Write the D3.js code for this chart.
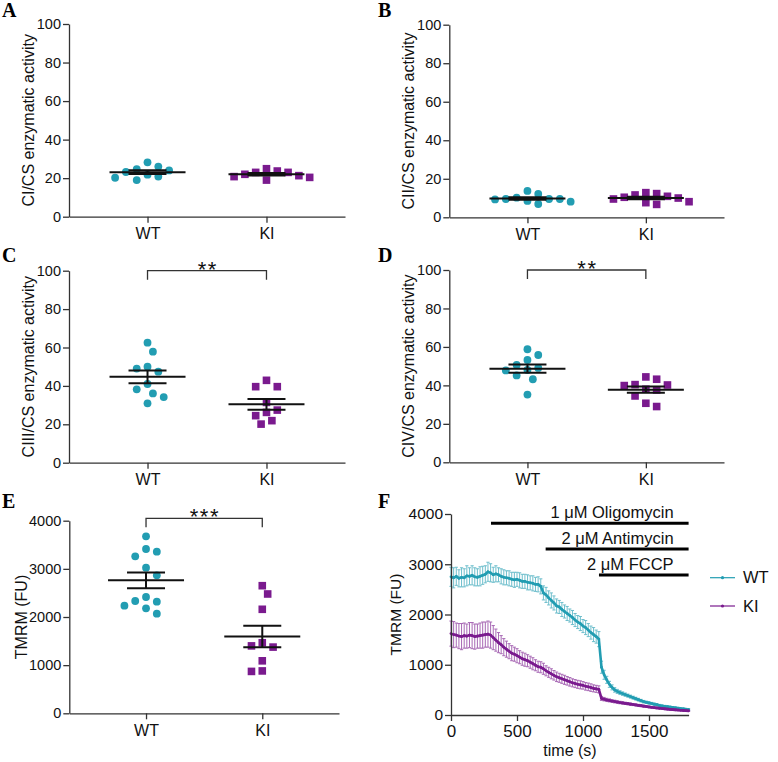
<!DOCTYPE html>
<html><head><meta charset="utf-8">
<script src="https://cdn.jsdelivr.net/npm/d3@7"></script>
<style>
body{margin:0;background:#fff}
svg{display:block}
</style>
</head><body>
<svg id="c" width="778" height="762"></svg>
<script>
// ---------------- DATA ----------------
const groups = ["WT", "KI"];
const pctTicks = [0, 20, 40, 60, 80, 100];
const tmrmTicks = [0, 1000, 2000, 3000, 4000];
const timeTicks = [0, 500, 1000, 1500];

const ciWT   = [24.7, 23.2, 20.8, 28.2, 19.0, 26.0, 20.2, 21.8, 24.0];
const ciKI   = [23.0, 22.0, 20.8, 19.0, 24.9, 20.4, 21.3, 23.0, 23.7];
const ciiWT  = [12.1, 9.5, 9.5, 8.5, 13.7, 6.9, 8.1, 9.3, 9.5, 10.2];
const ciiKI  = [12.3, 10.9, 10.0, 8.1, 12.8, 6.7, 7.6, 9.5, 10.4, 11.6];
const ciiiWT = [62.5, 57.8, 50.0, 47.4, 49.0, 41.0, 38.2, 36.1, 34.2, 30.9];
const ciiiKI = [42.9, 39.6, 39.6, 27.4, 24.5, 26.2, 31.4, 20.1, 21.9];
const civWT  = [58.8, 55.8, 53.2, 47.8, 50.6, 48.0, 49.1, 45.2, 43.2, 35.2];
const civKI  = [40.2, 43.2, 44.4, 38.0, 37.6, 39.9, 40.4, 34.5, 29.0, 30.7];
const tmrmWT = [3676, 3356, 3412, 3261, 3024, 2866, 2332, 2235, 2318, 2415, 2181, 2069];
const tmrmKI = [2650, 2478, 2160, 1400, 1375, 1465, 1090, 870, 880];

const sigLabels = {C: "**", D: "**", E: "***"};
const sigLevels = {C: 100, D: 100, E: 4050};

const fTime = [0,20,40,60,80,100,120,140,160,180,200,220,240,260,280,300,320,340,360,380,400,420,440,460,480,500,520,540,560,580,600,620,640,660,680,700,720,740,760,780,800,820,840,860,880,900,920,940,960,980,1000,1020,1040,1060,1080,1100,1120,1140,1160,1180,1200,1220,1240,1260,1280,1300,1320,1340,1360,1380,1400,1420,1440,1460,1480,1500,1520,1540,1560,1580,1600,1620,1640,1660,1680,1700,1720,1740,1760,1780,1800];
const fWT = [2750,2730,2760,2720,2740,2730,2770,2760,2780,2750,2740,2760,2780,2800,2850,
  2830,2790,2810,2790,2760,2740,2730,2720,2700,2690,2700,2680,2660,2660,2640,2630,2620,2600,2600,2560,
  2430,2390,2330,2280,2230,2170,2150,2100,2060,2020,1980,1940,1890,1850,1820,1770,1740,1690,1640,1600,1560,1510,
  950,800,700,610,550,500,470,445,425,405,385,365,345,325,305,285,265,252,240,228,216,205,190,180,172,165,158,150,143,136,128,122,115,110];
const fWTerr = [190,200,180,170,190,180,200,170,190,180,170,190,180,170,190,
  180,150,160,140,150,150,140,150,140,150,140,150,140,140,150,140,150,140,150,150,
  140,150,140,150,140,140,130,140,130,140,130,140,130,130,140,130,140,130,130,140,130,150,
  120,90,70,60,50,45,40,38,35,33,31,30,29,28,27,26,25,24,24,23,22,22,21,21,20,20,19,19,18,18,17,17,16,16];
const fKI = [1620,1600,1590,1570,1560,1580,1570,1590,1580,1560,1570,1580,1590,1600,1610,
  1590,1540,1490,1440,1400,1350,1310,1270,1230,1210,1180,1150,1120,1100,1080,1050,1020,990,960,950,
  920,880,850,820,790,760,740,720,700,680,660,640,625,610,600,590,570,560,545,530,520,510,
  330,315,300,290,278,268,258,248,240,232,224,216,208,200,192,184,176,168,160,153,146,140,134,128,122,117,112,107,102,98,94,90,86,83];
const fKIerr = [250,260,240,250,260,250,240,250,260,250,240,250,260,250,260,
  260,240,220,200,180,170,160,150,150,140,140,130,130,130,120,120,120,110,110,110,
  110,100,100,100,95,95,90,90,90,85,85,80,80,80,80,75,75,75,75,70,70,70,
  40,35,32,30,28,27,26,25,24,23,22,22,21,21,20,20,19,19,18,18,17,17,16,16,15,15,15,14,14,14,13,13,13,12];

const treatments = ["1 \u03bcM Oligomycin", "2 \u03bcM Antimycin", "2 \u03bcM FCCP"];
const treatmentStart = [303, 717, 1121];
const treatmentEnd = 1800;

// ---------------- STYLE / LAYOUT ----------------
const SANS = '"Liberation Sans",Arial,sans-serif';
const COL = {WT: "#229db2", KI: "#7a1a8e"};
const svg = d3.select("#c");

function styleAxis(g, fs) {
  g.attr("font-family", SANS);
  g.selectAll(".domain").attr("stroke", "#333").attr("stroke-width", 1.3);
  g.selectAll(".tick line").attr("stroke", "#333").attr("stroke-width", 1.3);
  g.selectAll(".tick text").attr("fill", "#111").style("font-family", SANS).style("font-size", fs + "px");
}

function txt(sel, fs) {
  return sel.style("font-family", SANS).style("font-size", fs + "px").attr("fill", "#111");
}

function swarm(vals, yS, cx, step, minD) {
  const pts = vals.map((v, i) => ({v, y: yS(v), i, dx: 0}));
  const order = pts.slice().sort((a, b) => a.y - b.y);
  const placed = [];
  let side = 1;
  for (const p of order) {
    let done = false;
    for (let k = 0; k < 60 && !done; k++) {
      const cands = k === 0 ? [0] : [k * step * side, -k * step * side];
      for (const dx of cands) {
        if (placed.every(q => Math.hypot(q.dx - dx, q.y - p.y) >= minD)) {
          p.dx = dx; placed.push(p); done = true;
          if (dx !== 0) side = dx > 0 ? -1 : 1;
          break;
        }
      }
    }
  }
  return pts.map(p => ({v: p.v, x: cx + p.dx, y: p.y}));
}

const panels = [
  {letter: "A", lx: 2, ly: 17, x0: 69, x1: 345, yTop: 24, yBot: 216.7, titleOff: 41,
   title: "CI/CS enzymatic activity", wt: ciWT, ki: ciKI, dom: [0, 100], ticks: pctTicks},
  {letter: "B", lx: 378, ly: 17, x0: 449.3, x1: 724, yTop: 24.7, yBot: 217.3, titleOff: 41,
   title: "CII/CS enzymatic activity", wt: ciiWT, ki: ciiKI, dom: [0, 100], ticks: pctTicks},
  {letter: "C", lx: 2, ly: 262, x0: 69, x1: 345, yTop: 270.7, yBot: 462.7, titleOff: 41,
   title: "CIII/CS enzymatic activity", wt: ciiiWT, ki: ciiiKI, dom: [0, 100], ticks: pctTicks},
  {letter: "D", lx: 378, ly: 262, x0: 449.3, x1: 724, yTop: 270, yBot: 462.3, titleOff: 41,
   title: "CIV/CS enzymatic activity", wt: civWT, ki: civKI, dom: [0, 100], ticks: pctTicks},
  {letter: "E", lx: 2, ly: 508, x0: 69.3, x1: 339, yTop: 520.7, yBot: 713.3, titleOff: 48,
   title: "TMRM (FU)", wt: tmrmWT, ki: tmrmKI, dom: [0, 4000], ticks: tmrmTicks}
];

function letter(t, x, y) {
  svg.append("text").attr("x", x).attr("y", y).text(t)
    .style("font-family", '"Liberation Serif","Times New Roman",serif')
    .style("font-weight", "bold").style("font-size", "20px").attr("fill", "#000");
}

panels.forEach(p => {
  const g = svg.append("g");
  const x = d3.scalePoint().domain(groups).range([p.x0, p.x1]).padding(0.66);
  const y = d3.scaleLinear().domain(p.dom).range([p.yBot, p.yTop]);

  const ya = g.append("g").attr("transform", `translate(${p.x0},0)`)
    .call(d3.axisLeft(y).tickValues(p.ticks).tickFormat(d3.format("d")).tickSize(6).tickPadding(2).tickSizeOuter(0));
  styleAxis(ya, 14.5);
  const xa = g.append("g").attr("transform", `translate(0,${p.yBot})`)
    .call(d3.axisBottom(x).tickSize(6).tickPadding(5).tickSizeOuter(0));
  styleAxis(xa, 16);

  txt(g.append("text")
    .attr("transform", `translate(${p.x0 - p.titleOff},${(p.yTop + p.yBot) / 2}) rotate(-90)`)
    .attr("text-anchor", "middle").attr("dy", "0.35em"), 16).text(p.title);

  letter(p.letter, p.lx, p.ly);

  groups.forEach(grp => {
    const vals = grp === "WT" ? p.wt : p.ki;
    const pts = swarm(vals, y, x(grp), 5.4, 9.8);
    if (grp === "WT") {
      g.selectAll(null).data(pts).join("circle")
        .attr("cx", d => d.x).attr("cy", d => d.y).attr("r", 3.9).attr("fill", COL.WT);
    } else {
      g.selectAll(null).data(pts).join("rect")
        .attr("x", d => d.x - 3.8).attr("y", d => d.y - 3.8)
        .attr("width", 7.6).attr("height", 7.6).attr("fill", COL.KI);
    }
    const m = d3.mean(vals);
    const sem = d3.deviation(vals) / Math.sqrt(vals.length);
    const cx = x(grp);
    const lg = g.append("g").attr("stroke", "#111").attr("stroke-width", 2);
    lg.append("line").attr("x1", cx - 38).attr("x2", cx + 38).attr("y1", y(m)).attr("y2", y(m));
    lg.append("line").attr("x1", cx).attr("x2", cx).attr("y1", y(m + sem)).attr("y2", y(m - sem));
    [m + sem, m - sem].forEach(v => lg.append("line")
      .attr("x1", cx - 19).attr("x2", cx + 19).attr("y1", y(v)).attr("y2", y(v)));
  });

  const lab = sigLabels[p.letter];
  if (lab) {
    const by = y(sigLevels[p.letter]);
    const xa1 = x("WT"), xa2 = x("KI");
    g.append("path")
      .attr("d", `M${xa1},${by + 9}V${by}H${xa2}V${by + 9}`)
      .attr("fill", "none").attr("stroke", "#333").attr("stroke-width", 1.3);
    txt(g.append("text").attr("x", (xa1 + xa2) / 2 + 0.8).attr("y", by - 6.7 + 12.5)
      .attr("text-anchor", "middle").attr("letter-spacing", 1.6), 22).text(lab);
  }
});

// ---------------- PANEL F ----------------
(function () {
  const g = svg.append("g");
  const x = d3.scaleLinear().domain([0, 1800]).range([451, 688.6]);
  const y = d3.scaleLinear().domain([0, 4000]).range([715, 514]);

  const series = [
    {name: "WT", v: fWT, e: fWTerr},
    {name: "KI", v: fKI, e: fKIerr}
  ];

  series.forEach(s => {
    const pts = fTime.map((t, i) => ({t, v: s.v[i], e: s.e[i]}));
    const eg = g.append("g").attr("stroke", COL[s.name]).attr("stroke-width", 1).attr("opacity", 0.65);
    pts.forEach(d => {
      eg.append("line").attr("x1", x(d.t)).attr("x2", x(d.t)).attr("y1", y(d.v + d.e)).attr("y2", y(d.v - d.e));
      [d.v + d.e, d.v - d.e].forEach(v => eg.append("line")
        .attr("x1", x(d.t) - 1.6).attr("x2", x(d.t) + 1.6).attr("y1", y(v)).attr("y2", y(v)));
    });
    g.append("path").datum(pts)
      .attr("d", d3.line().x(d => x(d.t)).y(d => y(d.v)))
      .attr("fill", "none").attr("stroke", COL[s.name]).attr("stroke-width", 2.6);
    g.selectAll(null).data(pts).join("circle")
      .attr("cx", d => x(d.t)).attr("cy", d => y(d.v)).attr("r", 1.4).attr("fill", COL[s.name]);
  });

  const ya = g.append("g").attr("transform", "translate(451,0)")
    .call(d3.axisLeft(y).tickValues(tmrmTicks).tickFormat(d3.format("d")).tickSize(6).tickPadding(2).tickSizeOuter(0));
  styleAxis(ya, 15.5);
  const xa = g.append("g").attr("transform", "translate(0,715)")
    .call(d3.axisBottom(x).tickValues(timeTicks).tickFormat(d3.format("d")).tickSize(6).tickPadding(4).tickSizeOuter(0));
  styleAxis(xa, 17);

  txt(g.append("text").attr("x", 570).attr("y", 750.5).attr("dy", "0.35em")
    .attr("text-anchor", "middle"), 16).text("time (s)");
  txt(g.append("text")
    .attr("transform", `translate(396,${(514 + 715) / 2}) rotate(-90)`)
    .attr("text-anchor", "middle").attr("dy", "0.35em"), 15.5).text("TMRM (FU)");

  letter("F", 378, 508);

  treatments.forEach((t, i) => {
    const by = 523.3 + i * 25.8;
    g.append("line").attr("x1", x(treatmentStart[i])).attr("x2", x(treatmentEnd))
      .attr("y1", by).attr("y2", by).attr("stroke", "#000").attr("stroke-width", 3);
    txt(g.append("text").attr("x", x(treatmentEnd) - 15).attr("y", by - 5)
      .attr("text-anchor", "end"), 16.5).text(t);
  });

  groups.forEach((grp, i) => {
    const ly = 577.7 + i * 28.3;
    g.append("line").attr("x1", 710).attr("x2", 735).attr("y1", ly).attr("y2", ly)
      .attr("stroke", COL[grp]).attr("stroke-width", 1.2);
    g.append("circle").attr("cx", 722.5).attr("cy", ly).attr("r", 1.6).attr("fill", COL[grp]);
    txt(g.append("text").attr("x", 743).attr("y", ly).attr("dy", "0.35em"), 16.5).text(grp);
  });
})();
</script>
</body></html>
